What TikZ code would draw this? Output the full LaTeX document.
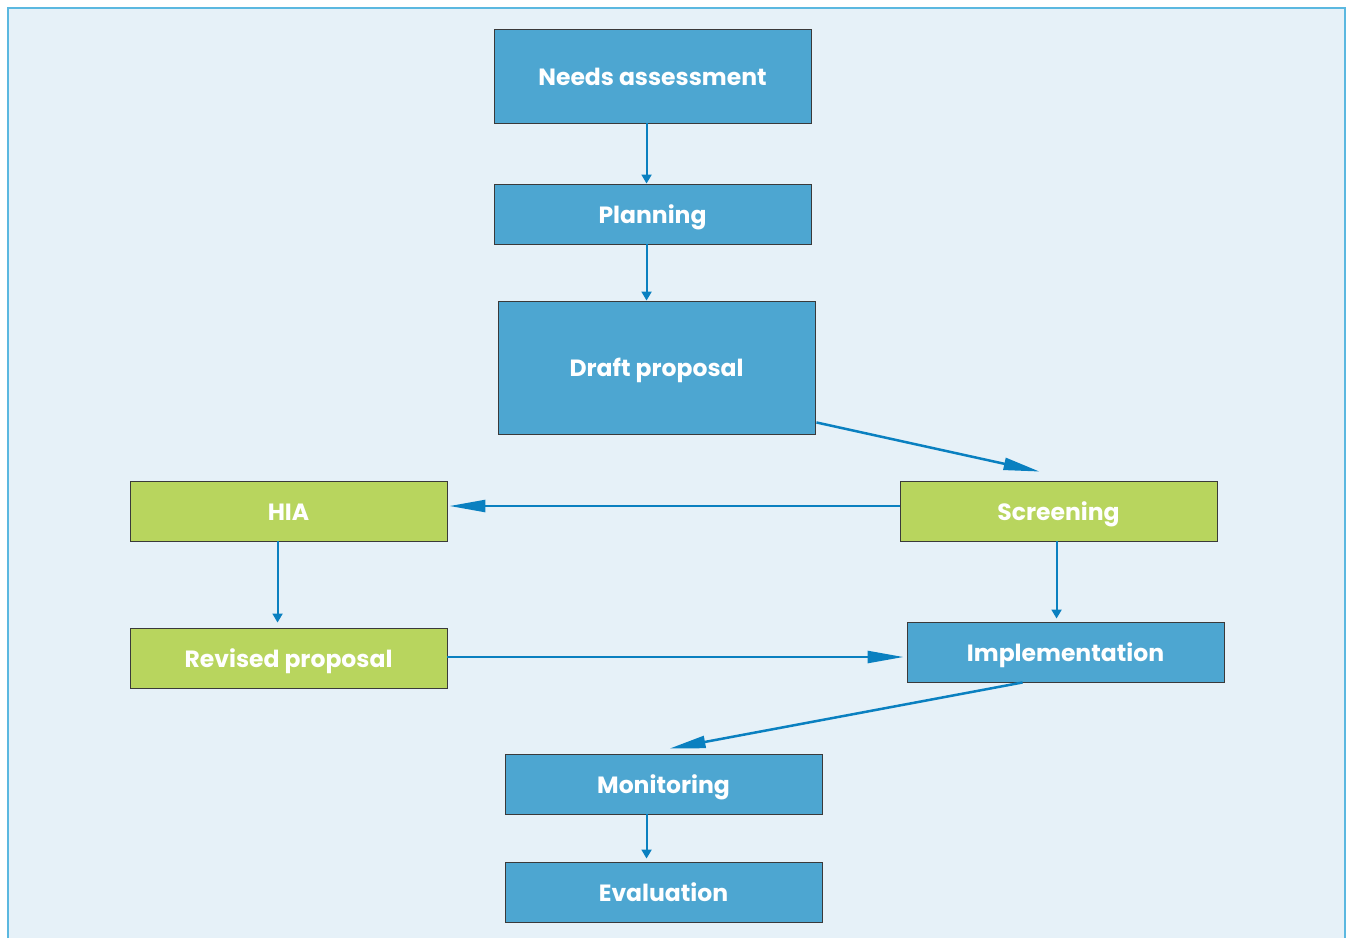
\documentclass[tikz,border=0pt]{standalone}
\usepackage{fontspec}
\setmainfont{Poppins}
\usetikzlibrary{arrows.meta,calc}
\definecolor{bg}{HTML}{E6F1F8}
\definecolor{frame}{HTML}{5BB8E0}
\definecolor{boxblue}{HTML}{4DA6D1}
\definecolor{boxgreen}{HTML}{B8D55E}
\definecolor{arr}{HTML}{0A80C0}
\definecolor{edge}{HTML}{3A3A3A}
\tikzset{
  box/.style={draw=edge, line width=0.9pt, minimum width=317pt, text=white, font=\fontsize{23.5}{26}\selectfont\bfseries, inner sep=0pt, text height=18pt, text depth=0pt},
  bluebox/.style={box, fill=boxblue},
  greenbox/.style={box, fill=boxgreen},
  small/.style={draw=arr, line width=2pt, -{Triangle[length=9pt,width=10pt]}},
  big/.style={draw=arr, line width=2.5pt, -{Triangle[length=36pt,width=12pt]}},
}
\begin{document}
\begin{tikzpicture}[x=1pt,y=-1pt]
\useasboundingbox (0,0) rectangle (1346,938);
\fill[white] (0,0) rectangle (1346,938);
\fill[bg] (8,8) rectangle (1345,938);
\draw[frame, line width=1.2pt] (8,938) -- (8,8) -- (1345,8) -- (1345,938);

\node[bluebox, minimum height=94pt] (na) at (652.5,76) {Needs assessment};
\node[bluebox, minimum height=60pt] (pl) at (652.5,214) {Planning};
\node[bluebox, minimum height=133pt] (dp) at (656.5,367.5) {Draft proposal};
\node[greenbox, minimum height=60pt] (hia) at (288.5,511) {HIA};
\node[greenbox, minimum height=60pt] (sc) at (1058.5,511) {Screening};
\node[greenbox, minimum height=60pt] (rp) at (288.5,658) {Revised proposal};
\node[bluebox, minimum height=60pt] (im) at (1065.5,652) {Implementation};
\node[bluebox, minimum height=60pt] (mo) at (663.5,784) {Monitoring};
\node[bluebox, minimum height=60pt] (ev) at (663.5,892) {Evaluation};

\draw[small] ($(na.south west)+(153,0)$) -- ($(pl.north west)+(153,0)$);
\draw[small] ($(pl.south west)+(153,0)$) -- ($(dp.north west)+(149,0)$);
\draw[big] ($(dp.south east)+(1,-12)$) -- ($(sc.north west)+(140,-9)$);
\draw[big] ($(sc.west)+(0,-5)$) -- ($(hia.east)+(2,-5)$);
\draw[small] ($(hia.south west)+(148,0)$) -- ($(rp.north west)+(148,-5)$);
\draw[small] ($(sc.south west)+(157,0)$) -- ($(im.north west)+(150,-3)$);
\draw[big] ($(rp.east)+(0,-1)$) -- ($(im.west)+(-3,5)$);
\draw[big] ($(im.south west)+(116,0)$) -- ($(mo.north west)+(165,-5)$);
\draw[small] ($(mo.south west)+(142,0)$) -- ($(ev.north west)+(142,-3)$);
\end{tikzpicture}
\end{document}
